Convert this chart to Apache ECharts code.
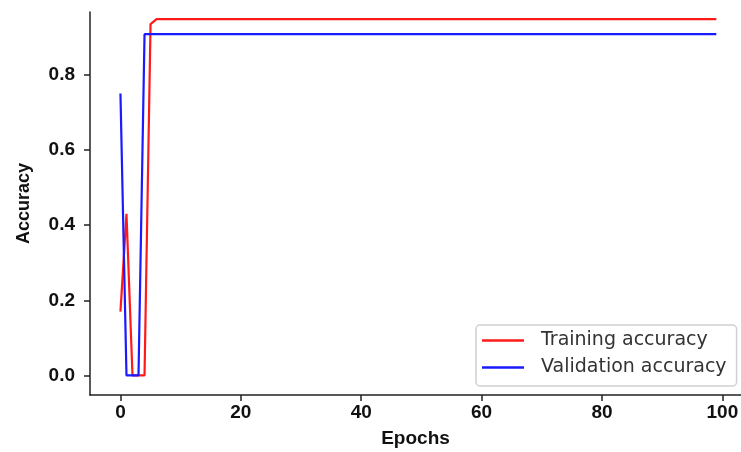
<!DOCTYPE html>
<html>
<head>
<meta charset="utf-8">
<script src="https://cdn.jsdelivr.net/npm/echarts@6/dist/echarts.min.js"></script>
<style>
html,body{margin:0;padding:0;background:#fff;}
#c{width:741px;height:452px;}
</style>
</head>
<body>
<div id="c"></div>
<script>
const seriesNames = ["Training accuracy", "Validation accuracy"];
const trainingAccuracy = [
  0.17, 0.43, 0.0, 0.0, 0.0, 0.935, 0.948, 0.948, 0.948, 0.948,
  0.948, 0.948, 0.948, 0.948, 0.948, 0.948, 0.948, 0.948, 0.948, 0.948,
  0.948, 0.948, 0.948, 0.948, 0.948, 0.948, 0.948, 0.948, 0.948, 0.948,
  0.948, 0.948, 0.948, 0.948, 0.948, 0.948, 0.948, 0.948, 0.948, 0.948,
  0.948, 0.948, 0.948, 0.948, 0.948, 0.948, 0.948, 0.948, 0.948, 0.948,
  0.948, 0.948, 0.948, 0.948, 0.948, 0.948, 0.948, 0.948, 0.948, 0.948,
  0.948, 0.948, 0.948, 0.948, 0.948, 0.948, 0.948, 0.948, 0.948, 0.948,
  0.948, 0.948, 0.948, 0.948, 0.948, 0.948, 0.948, 0.948, 0.948, 0.948,
  0.948, 0.948, 0.948, 0.948, 0.948, 0.948, 0.948, 0.948, 0.948, 0.948,
  0.948, 0.948, 0.948, 0.948, 0.948, 0.948, 0.948, 0.948, 0.948, 0.948
];
const validationAccuracy = [
  0.75, 0.0, 0.0, 0.0, 0.908, 0.908, 0.908, 0.908, 0.908, 0.908,
  0.908, 0.908, 0.908, 0.908, 0.908, 0.908, 0.908, 0.908, 0.908, 0.908,
  0.908, 0.908, 0.908, 0.908, 0.908, 0.908, 0.908, 0.908, 0.908, 0.908,
  0.908, 0.908, 0.908, 0.908, 0.908, 0.908, 0.908, 0.908, 0.908, 0.908,
  0.908, 0.908, 0.908, 0.908, 0.908, 0.908, 0.908, 0.908, 0.908, 0.908,
  0.908, 0.908, 0.908, 0.908, 0.908, 0.908, 0.908, 0.908, 0.908, 0.908,
  0.908, 0.908, 0.908, 0.908, 0.908, 0.908, 0.908, 0.908, 0.908, 0.908,
  0.908, 0.908, 0.908, 0.908, 0.908, 0.908, 0.908, 0.908, 0.908, 0.908,
  0.908, 0.908, 0.908, 0.908, 0.908, 0.908, 0.908, 0.908, 0.908, 0.908,
  0.908, 0.908, 0.908, 0.908, 0.908, 0.908, 0.908, 0.908, 0.908, 0.908
];
const xTicks = [0, 20, 40, 60, 80, 100];
const yTicks = [0.0, 0.2, 0.4, 0.6, 0.8];

const toPairs = arr => arr.map((v, i) => [i, v]);
const axisFont = 'Liberation Sans';
const legendFont = 'DejaVu Sans';
const textColor = '#111';

const chart = echarts.init(document.getElementById('c'));
chart.setOption({
  animation: false,
  backgroundColor: '#ffffff',
  grid: { left: 90, top: 12, right: 0, bottom: 57, containLabel: false, outerBoundsMode: 'none' },
  xAxis: {
    type: 'value', min: -5.06, max: 103.1,
    name: 'Epochs', nameLocation: 'middle', nameGap: 34,
    nameTextStyle: { fontFamily: axisFont, fontSize: 19, fontWeight: 'bold', color: textColor },
    axisLine: { show: true, onZero: false, lineStyle: { color: '#222', width: 1.5 } },
    axisTick: { show: true, customValues: xTicks, length: 6, inside: false, lineStyle: { color: '#222', width: 1.5 } },
    axisLabel: { customValues: xTicks, fontFamily: axisFont, fontSize: 19, fontWeight: 'bold', color: textColor, margin: 8 },
    splitLine: { show: false }
  },
  yAxis: {
    type: 'value', min: -0.052, max: 0.967,
    name: 'Accuracy', nameLocation: 'middle', nameGap: 57, nameRotate: 90,
    nameTextStyle: { fontFamily: axisFont, fontSize: 18, fontWeight: 'bold', color: textColor },
    axisLine: { show: true, onZero: false, lineStyle: { color: '#222', width: 1.5 } },
    axisTick: { show: true, customValues: yTicks, length: 6, inside: false, lineStyle: { color: '#222', width: 1.5 } },
    axisLabel: { customValues: yTicks, fontFamily: axisFont, fontSize: 19, fontWeight: 'bold', color: textColor, margin: 15,
      formatter: v => v.toFixed(1) },
    splitLine: { show: false }
  },
  legend: {
    orient: 'vertical', left: 476, top: 325,
    data: seriesNames,
    icon: 'rect', itemWidth: 42, itemHeight: 2.5, itemGap: 8,
    padding: [6, 10, 9, 6],
    borderColor: '#d0d0d0', borderWidth: 1.5, borderRadius: 4,
    backgroundColor: 'rgba(255,255,255,0.8)',
    textStyle: { fontFamily: legendFont, fontSize: 19, color: '#333', padding: [0, 0, 0, 12] }
  },
  series: [
    { name: seriesNames[0], type: 'line', data: toPairs(trainingAccuracy), showSymbol: false,
      color: '#ff1a1a', lineStyle: { width: 2.2, color: '#ff1a1a' }, z: 2 },
    { name: seriesNames[1], type: 'line', data: toPairs(validationAccuracy), showSymbol: false,
      color: '#1a1aff', lineStyle: { width: 2.2, color: '#1a1aff' }, z: 3 }
  ]
});
</script>
</body>
</html>
